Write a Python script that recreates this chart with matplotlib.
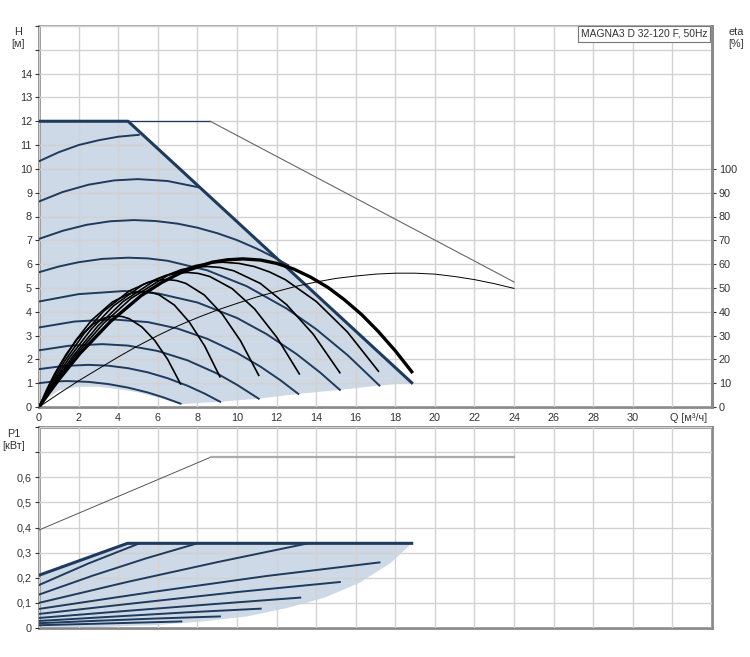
import numpy as np
import matplotlib.pyplot as plt

plt.rcParams['font.family'] = ['Liberation Sans', 'DejaVu Sans']

# ---------------- data ----------------
# Q [m3/h] and H [m] of the speed curves (lowest -> highest)
q_c1 = [0, 0.7, 1.4, 2.5, 3.5, 4.5, 5.5, 6.3, 7.15]
h_c1 = [1.0, 1.07, 1.09, 1.055, 0.963, 0.814, 0.608, 0.40, 0.14]
q_c2 = [0, 1.2, 2.5, 3.5, 4.5, 5.5, 6.5, 7.5, 8.4, 9.15]
h_c2 = [1.59, 1.72, 1.77, 1.735, 1.63, 1.454, 1.208, 0.893, 0.55, 0.22]
q_c3 = [0, 1.5, 3.2, 4.5, 6, 7.5, 9, 10, 11.1]
h_c3 = [2.38, 2.57, 2.64, 2.578, 2.352, 1.961, 1.405, 0.934, 0.35]
q_c4 = [0, 1.8, 3.7, 5.5, 7, 8.5, 10, 11.2, 12.2, 13.1]
h_c4 = [3.34, 3.59, 3.68, 3.565, 3.295, 2.864, 2.275, 1.689, 1.122, 0.55]
q_c5 = [0, 2, 4.3, 6, 8, 10, 11.5, 13, 14.2, 15.2]
h_c5 = [4.43, 4.74, 4.87, 4.77, 4.39, 3.74, 3.06, 2.23, 1.45, 0.72]
q_c6 = [0, 1, 2, 3.2, 4.5, 5.5, 6.5, 8.5, 10.5, 12.5, 14, 15.6, 17.2]
h_c6 = [5.66, 5.90, 6.08, 6.22, 6.27, 6.24, 6.14, 5.74, 5.07, 4.14, 3.27, 2.17, 0.9]
q_c7 = [0, 1.2, 2.4, 3.6, 4.8, 5.9, 7, 8, 9, 10, 11, 11.8, 12.6]
h_c7 = [7.06, 7.40, 7.65, 7.80, 7.85, 7.81, 7.70, 7.53, 7.30, 7.01, 6.65, 6.32, 5.95]
q_c8 = [0, 1.2, 2.5, 3.8, 5.0, 6.5, 8.1]
h_c8 = [8.63, 9.03, 9.335, 9.516, 9.57, 9.49, 9.22]
q_c9 = [0, 1, 2, 3, 4, 5.04]
h_c9 = [10.32, 10.7, 11.0, 11.2, 11.35, 11.43]

# max curve
q_max = [0, 4.5, 18.83]
h_max = [12, 12, 1.02]
q_ext = [4.5, 8.65]
h_ext = [12, 12]
q_ext2 = [8.65, 24.0]
h_ext2 = [12, 5.25]

# lower edge of operating area
q_low = [18.83, 17.2, 15.2, 13.1, 11.1, 9.15, 7.15, 6.0, 5.0, 4.0, 3.0, 2.0, 1.0, 0.4, 0]
h_low = [1.02, 0.9, 0.72, 0.55, 0.35, 0.22, 0.12, 0.4, 0.62, 0.75, 0.85, 0.85, 0.7, 0.35, 0]

# efficiency curves (in H units, eta/10)
q_e1 = [0, 0.2, 0.39, 0.78, 1.37, 1.95, 2.73, 3.3, 3.6, 3.9, 4.2, 4.55, 5.2, 5.85, 6.5, 7.15]
h_e1 = [0, 0.37, 0.73, 1.38, 2.21, 2.87, 3.48, 3.73, 3.80, 3.82, 3.80, 3.71, 3.36, 2.79, 2.0, 0.97]
q_e2 = [0, 0.27, 0.53, 1.06, 1.86, 2.65, 3.71, 4.5, 4.9, 5.3, 5.7, 6.07, 6.84, 7.6, 8.37, 9.14]
h_e2 = [0, 0.47, 0.92, 1.75, 2.8, 3.64, 4.41, 4.74, 4.82, 4.85, 4.81, 4.71, 4.28, 3.56, 2.56, 1.27]
q_e3 = [0, 0.33, 0.65, 1.3, 2.28, 3.25, 4.55, 5.5, 6.0, 6.5, 6.95, 7.42, 8.34, 9.26, 10.18, 11.1]
h_e3 = [0, 0.52, 1.02, 1.93, 3.09, 4.01, 4.87, 5.23, 5.32, 5.35, 5.31, 5.19, 4.71, 3.9, 2.78, 1.33]
q_e4 = [0, 0.38, 0.75, 1.5, 2.63, 3.75, 5.25, 6.4, 6.95, 7.5, 8.05, 8.63, 9.76, 10.89, 12.02, 13.15]
h_e4 = [0, 0.55, 1.07, 2.03, 3.26, 4.24, 5.14, 5.52, 5.62, 5.65, 5.61, 5.48, 4.97, 4.12, 2.92, 1.39]
q_e5 = [0, 0.43, 0.85, 1.7, 2.98, 4.25, 5.95, 7.2, 7.85, 8.5, 9.15, 9.84, 11.18, 12.52, 13.86, 15.2]
h_e5 = [0, 0.58, 1.12, 2.12, 3.41, 4.43, 5.37, 5.77, 5.87, 5.9, 5.86, 5.72, 5.19, 4.29, 3.05, 1.44]
q_e6 = [0, 0.47, 0.93, 1.86, 3.26, 4.65, 6.51, 7.9, 8.6, 9.3, 10.1, 10.87, 11.65, 12.44, 14.01,
        15.58, 17.15]
h_e6 = [0, 0.59, 1.16, 2.19, 3.51, 4.56, 5.53, 5.94, 6.05, 6.08, 6.03, 5.9, 5.67, 5.35, 4.43,
        3.15, 1.5]
q_e7 = [0, 0.52, 1.03, 2.06, 3.61, 5.15, 6.2, 7.21, 8.75, 9.5, 10.3, 11.2, 12.01, 12.85, 13.71,
        14.6, 15.42, 16.3, 17.12, 18.0, 18.83]
h_e7 = [0, 0.61, 1.18, 2.24, 3.59, 4.67, 5.23, 5.66, 6.08, 6.18, 6.22, 6.17, 6.03, 5.8, 5.46,
        5.02, 4.51, 3.88, 3.19, 2.36, 1.48]
q_eth = [0, 1, 2, 3, 4, 5, 6, 7, 8, 9, 10, 11, 12, 13, 14, 15, 16, 17, 18, 19, 20, 21, 22, 23, 24]
h_eth = [0, 0.56, 1.1, 1.6, 2.1, 2.57, 3.0, 3.4, 3.75, 4.07, 4.35, 4.62, 4.85, 5.07, 5.25,
         5.4, 5.5, 5.58, 5.62, 5.62, 5.58, 5.48, 5.35, 5.18, 4.98]

# power P1 [kW]
q_pmax = [0, 4.47, 18.83]
p_pmax = [0.21, 0.337, 0.337]
q_p9 = [0, 2.5, 5.08]
p_p9 = [0.171, 0.257, 0.337]
q_p8 = [0, 2.7, 5.4, 8.0]
p_p8 = [0.133, 0.208, 0.277, 0.337]
q_p7 = [0, 4.5, 9, 13.6]
p_p7 = [0.100, 0.184, 0.262, 0.337]
q_p6 = [0, 5.7, 11.5, 17.2]
p_p6 = [0.076, 0.143, 0.207, 0.261]
q_p5 = [0, 5, 10, 15.2]
p_p5 = [0.056, 0.100, 0.143, 0.183]
q_p4 = [0, 4.4, 8.8, 13.2]
p_p4 = [0.040, 0.068, 0.095, 0.121]
q_p3 = [0, 3.7, 7.4, 11.2]
p_p3 = [0.028, 0.045, 0.062, 0.077]
q_p2 = [0, 3, 6, 9.14]
p_p2 = [0.019, 0.029, 0.038, 0.046]
q_p1 = [0, 2.4, 4.8, 7.19]
p_p1 = [0.011, 0.016, 0.021, 0.026]
q_pth = [0, 8.68, 8.68, 24.0]
p_pth = [0.39, 0.68, 0.68, 0.68]
q_plow = [18.83, 17.8, 16.2, 14.4, 12.5, 10.5, 8.1, 6.0, 3.0, 0]
p_plow = [0.337, 0.261, 0.18, 0.12, 0.079, 0.046, 0.025, 0.012, 0.004, 0]

x_ticks = list(range(0, 35, 2))
x_labels = [str(v) if v <= 30 else '' for v in x_ticks]
h_ticks = list(range(0, 17))
h_labels = [str(v) if v <= 14 else '' for v in h_ticks]
eta_ticks = list(range(0, 101, 10))
p_ticks = [0, 0.1, 0.2, 0.3, 0.4, 0.5, 0.6, 0.7, 0.8]
p_labels = ['0', '0,1', '0,2', '0,3', '0,4', '0,5', '0,6', '', '']

# ---------------- styling ----------------
W, H = 750, 657
NAVY = '#1e3a5c'
FILL = '#cdd9e6'
GRID = '#d2d2d2'
SPINE = '#8a8a8a'
TXT = '#333333'
FS = 7.8

fig = plt.figure(figsize=(W / 100, H / 100), dpi=100)
ax = fig.add_axes([39 / W, 1 - 407 / H, 673 / W, 381 / H])
ax2 = fig.add_axes([39 / W, 1 - 628 / H, 673 / W, 201 / H])


def style(a):
    a.grid(True, color=GRID, lw=1.0, zorder=1.5)
    a.set_axisbelow(False)
    for s in ['left', 'bottom', 'right']:
        a.spines[s].set_color(SPINE)
        a.spines[s].set_linewidth(2)
    a.spines['top'].set_color('#a0a0a0')
    a.spines['top'].set_linewidth(1.2)
    a.tick_params(labelsize=FS, colors=TXT, length=3, width=0.8, pad=2)
    for gl in a.get_xgridlines() + a.get_ygridlines():
        gl.set_zorder(1.5)


# ---- top chart: H ----
ax.set_xlim(0, 34)
ax.set_ylim(0, 16)
ax.set_xticks(x_ticks)
ax.set_xticklabels(x_labels)
ax.set_yticks(h_ticks)
ax.set_yticklabels(h_labels)
style(ax)
ax.tick_params(axis='x', length=0, pad=4)

ax.fill(list(q_max) + q_low, list(h_max) + h_low, color=FILL, lw=0, zorder=1)

for q, h in [(q_c1, h_c1), (q_c2, h_c2), (q_c3, h_c3), (q_c4, h_c4), (q_c5, h_c5),
             (q_c6, h_c6), (q_c7, h_c7), (q_c8, h_c8), (q_c9, h_c9)]:
    ax.plot(q, h, color=NAVY, lw=1.4, zorder=3)
ax.plot(q_max, h_max, color=NAVY, lw=2.2, zorder=4)
ax.plot(q_ext, h_ext, color=NAVY, lw=0.9, zorder=3)
ax.plot(q_ext2, h_ext2, color='#666666', lw=0.8, zorder=3)

for q, h in [(q_e1, h_e1), (q_e2, h_e2), (q_e3, h_e3), (q_e4, h_e4),
             (q_e5, h_e5), (q_e6, h_e6)]:
    ax.plot(q, h, color='black', lw=1.2, zorder=5)
ax.plot(q_e7, h_e7, color='black', lw=2.4, zorder=6)
ax.plot(q_eth, h_eth, color='black', lw=0.7, zorder=5)

axr = ax.twinx()
axr.set_ylim(0, 160)
axr.set_yticks(eta_ticks)
axr.tick_params(labelsize=FS, colors=TXT, length=3, width=0.8, pad=2)
for s in axr.spines.values():
    s.set_visible(False)
axr.spines['right'].set_visible(True)
axr.spines['right'].set_color(SPINE)
axr.spines['right'].set_linewidth(2)

# model box
ax.text(0.993, 0.993, 'MAGNA3 D 32-120 F, 50Hz', transform=ax.transAxes,
        ha='right', va='top', fontsize=7.4, color=TXT, zorder=10,
        bbox=dict(boxstyle='square,pad=0.3', fc='white', ec='#777777', lw=0.8))

# ---- bottom chart: P1 ----
ax2.set_xlim(0, 34)
ax2.set_ylim(0, 0.8)
ax2.set_xticks(x_ticks)
ax2.set_xticklabels([])
ax2.set_yticks(p_ticks)
ax2.set_yticklabels(p_labels)
style(ax2)
ax2.spines['top'].set_color(SPINE)
ax2.spines['top'].set_linewidth(2)
ax2.tick_params(axis='x', length=0)

ax2.fill(list(q_pmax) + q_plow, list(p_pmax) + p_plow, color=FILL, lw=0, zorder=1)
for q, p in [(q_p1, p_p1), (q_p2, p_p2), (q_p3, p_p3), (q_p4, p_p4), (q_p5, p_p5),
             (q_p6, p_p6), (q_p7, p_p7), (q_p8, p_p8), (q_p9, p_p9)]:
    ax2.plot(q, p, color=NAVY, lw=1.4, zorder=3)
ax2.plot(q_pmax, p_pmax, color=NAVY, lw=2.2, zorder=4)
ax2.plot(q_pth[:2], p_pth[:2], color='#555555', lw=0.7, zorder=3)
ax2.plot(q_pth[2:], p_pth[2:], color='#aaaaaa', lw=1.6, zorder=3)

# ---- axis titles ----
fig.text(18 / W, 1 - 38 / H, 'H\n[м]', ha='center', va='center', fontsize=FS,
         color=TXT, linespacing=1.2)
fig.text(736 / W, 1 - 38 / H, 'eta\n[%]', ha='center', va='center', fontsize=FS,
         color=TXT, linespacing=1.2)
fig.text(707 / W, 1 - 418 / H, 'Q [м³/ч]', ha='right', va='center', fontsize=FS,
         color=TXT)
fig.text(14 / W, 1 - 440 / H, 'P1\n[кВт]', ha='center', va='center', fontsize=FS,
         color=TXT, linespacing=1.2)

fig.savefig('out.png', dpi=100, facecolor='white')
